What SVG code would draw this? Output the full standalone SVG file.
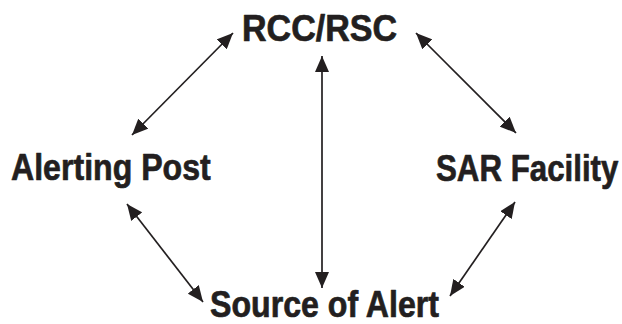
<svg xmlns="http://www.w3.org/2000/svg" width="622" height="324" viewBox="0 0 622 324">
  <style>
    .label { font-family: "Liberation Sans", Arial, Helvetica, sans-serif; font-weight: bold; font-size: 37px; fill: #231f20; stroke: #231f20; stroke-width: 0.7; stroke-linejoin: round; }
    .link { stroke: #231f20; stroke-width: 1.7; fill: none; marker-start: url(#head); marker-end: url(#head); }
  </style>
  <defs>
    <marker id="head" markerUnits="userSpaceOnUse" markerWidth="17" markerHeight="14" refX="16" refY="7" orient="auto-start-reverse">
      <path d="M0,0 L16,7 L0,14 z" fill="#231f20"/>
    </marker>
  </defs>

  <g id="connectors">
    <line class="link" x1="132" y1="135" x2="233" y2="33"/>
    <line class="link" x1="416" y1="33" x2="516" y2="133"/>
    <line class="link" x1="322" y1="56" x2="322" y2="288"/>
    <line class="link" x1="127" y1="204" x2="203" y2="302"/>
    <line class="link" x1="515" y1="202" x2="450" y2="296"/>
  </g>

  <!-- labels are set in a condensed bold face: horizontal scale per label -->
  <g id="rcc-rsc">
    <text class="label" transform="translate(242,41) scale(0.92,1)">RCC/RSC</text>
  </g>
  <g id="alerting-post">
    <text class="label" transform="translate(11,180) scale(0.868,1)">Alerting Post</text>
  </g>
  <g id="sar-facility">
    <text class="label" transform="translate(436,181) scale(0.845,1)">SAR Facility</text>
  </g>
  <g id="source-of-alert">
    <text class="label" style="font-size:36px" transform="translate(210,316.5) scale(0.892,1)">Source of Alert</text>
  </g>
</svg>
